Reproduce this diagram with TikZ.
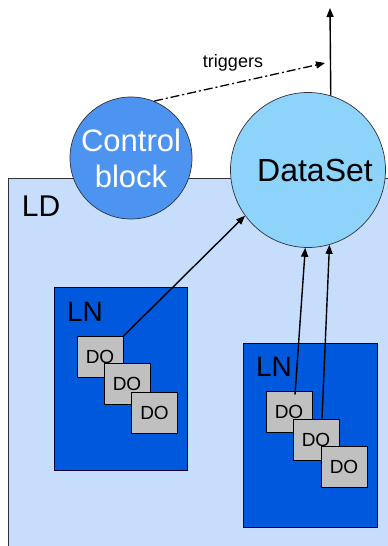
\documentclass[tikz,border=0pt]{standalone}
\usepackage{fontspec}
\setmainfont{Liberation Sans}
\usetikzlibrary{arrows.meta}
\definecolor{ldfill}{RGB}{198,222,252}
\definecolor{cbfill}{RGB}{77,148,240}
\definecolor{dsfill}{RGB}{142,211,250}
\definecolor{lnfill}{RGB}{0,88,220}
\definecolor{dofill}{RGB}{192,192,192}
\definecolor{edge}{RGB}{50,50,60}
\begin{document}
\begin{tikzpicture}[x=1pt,y=-1pt,
  ldbox/.style={draw=edge,fill=ldfill,line width=0.8pt},
  lnbox/.style={draw=black!80!blue,fill=lnfill,line width=0.9pt},
  dobox/.style={draw=black,fill=dofill,line width=0.8pt,minimum width=46pt,minimum height=41pt,
    inner sep=0pt,font=\fontsize{19}{19}\selectfont,text depth=0pt},
  bubble/.style={circle,draw=edge,line width=0.7pt,inner sep=0pt,align=center},
  lbl/.style={font=\fontsize{28}{28}\selectfont,inner sep=0pt},
  link/.style={line width=1.4pt,-{Triangle[length=9pt,width=7pt]}}]
\clip (0,0) rectangle (388,546);
\fill[white] (0,0) rectangle (388,546);

% logical device
\draw[ldbox] (400,560) -- (8,560) -- (8,178) -- (400,178);
\node[lbl,font=\fontsize{30}{30}\selectfont] (ld) at (41,206) {LD};

% logical node, left
\draw[lnbox] (54,287) rectangle (187,470);
\node[lbl] (lnl) at (85,312) {LN};
\node[dobox] (dol1) at (100,357) {DO};
\node[dobox] (dol2) at (127,384) {DO};
\node[dobox] (dol3) at (154.5,412.5) {DO};

% logical node, right
\draw[lnbox] (243,343) rectangle (377,527);
\node[lbl] (lnr) at (274,367) {LN};
\node[dobox] (dor1) at (289,411.5) {DO};
\node[dobox] (dor2) at (316,439.5) {DO};
\node[dobox] (dor3) at (344,467) {DO};

% control block and data set
\node[bubble,fill=cbfill,minimum size=122pt,text=white,
  font=\fontsize{31}{36}\selectfont] (cb) at (131,158) {Control\\block};
\node[bubble,fill=dsfill,minimum size=155pt,
  font=\fontsize{32}{32}\selectfont] (ds) at (308,170) {\hspace*{14pt}DataSet};

% connectors
\coordinate (out) at (330,8);
\coordinate (trg) at (325,63);
\coordinate (p1) at ([xshift=6pt,yshift=-4pt]dor1.north);
\coordinate (p2) at ([xshift=6pt]dor2.north);
\draw[link] (dol1.north east) -- (ds.216);
\draw[link] (p1) -- (ds.268);
\draw[link] (p2) -- (ds.286);
\draw[link] (ds.73) -- (out);
\draw[line width=1.3pt,dash pattern=on 9pt off 3pt on 2pt off 3pt,
  -{Triangle[length=9pt,width=7pt]}] (cb.68) -- (trg);
\node[font=\fontsize{18}{18}\selectfont,inner sep=0pt] (tl) at (233,63) {triggers};
\end{tikzpicture}
\end{document}
